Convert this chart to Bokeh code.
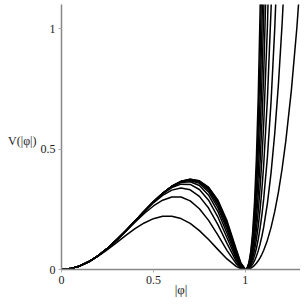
from bokeh.plotting import figure
from bokeh.models import Range1d, FixedTicker, NumeralTickFormatter, ColumnDataSource
from bokeh.embed import file_html
from bokeh.resources import INLINE

# |phi| sample grid (shared by all curves; each curve uses as many points as it has values)
phi = [0, 0.05, 0.10, 0.15, 0.20, 0.25, 0.30, 0.35, 0.40, 0.45, 0.50, 0.55, 0.60,
       0.65, 0.70, 0.75, 0.80, 0.85, 0.90, 0.95, 0.975, 1.0,
       1.01, 1.02, 1.03, 1.04, 1.05, 1.06, 1.07, 1.08, 1.09, 1.10, 1.12, 1.14,
       1.16, 1.18, 1.20, 1.22, 1.25, 1.28, 1.31]

V1 = [0, 0.0037, 0.0147, 0.0323, 0.0553, 0.0824, 0.1118, 0.1415, 0.1693, 0.1932, 0.2109, 0.2208,
      0.2212, 0.2114, 0.1912, 0.1615, 0.1244, 0.0835, 0.0439, 0.0129, 0.0035, 0,
      0.0006, 0.0025, 0.0059, 0.0108, 0.0174, 0.0257, 0.0361, 0.0484, 0.0631, 0.0800, 0.1218,
      0.1750, 0.2411, 0.3216, 0.4182, 0.5326, 0.7416, 1.0016, 1.3200]
V2 = [0, 0.0037, 0.0149, 0.0330, 0.0575, 0.0876, 0.1219, 0.1588, 0.1964, 0.2323, 0.2637, 0.2875,
      0.3008, 0.3007, 0.2849, 0.2523, 0.2040, 0.1438, 0.0794, 0.0245, 0.0068, 0,
      0.0012, 0.0052, 0.0122, 0.0225, 0.0365, 0.0547, 0.0773, 0.1050, 0.1380, 0.1769, 0.2745,
      0.4024, 0.5655, 0.7694, 1.0203, 1.3252]
V3 = [0, 0.0037, 0.0149, 0.0330, 0.0576, 0.0879, 0.1228, 0.1609, 0.2008, 0.2402, 0.2769, 0.3077,
      0.3295, 0.3384, 0.3308, 0.3034, 0.2550, 0.1873, 0.1082, 0.0350, 0.0099, 0,
      0.0019, 0.0080, 0.0188, 0.0351, 0.0576, 0.0872, 0.1246, 0.1709, 0.2270, 0.2941, 0.4661,
      0.6979, 1.0020, 1.3929]
V4 = [0, 0.0037, 0.0149, 0.0330, 0.0576, 0.0879, 0.1228, 0.1612, 0.2015, 0.2418, 0.2802, 0.3138,
      0.3398, 0.3543, 0.3532, 0.3322, 0.2876, 0.2188, 0.1315, 0.0444, 0.0129, 0,
      0.0025, 0.0108, 0.0259, 0.0488, 0.0809, 0.1237, 0.1787, 0.2477, 0.3327, 0.4359, 0.7065,
      1.0820, 1.5893]
V5 = [0, 0.0037, 0.0149, 0.0330, 0.0576, 0.0879, 0.1229, 0.1612, 0.2016, 0.2422, 0.2810, 0.3157,
      0.3435, 0.3611, 0.3643, 0.3484, 0.3085, 0.2415, 0.1504, 0.0530, 0.0157, 0,
      0.0032, 0.0138, 0.0333, 0.0636, 0.1066, 0.1647, 0.2407, 0.3374, 0.4584, 0.6075, 1.0080,
      1.5811]
V6 = [0, 0.0037, 0.0149, 0.0330, 0.0576, 0.0879, 0.1229, 0.1612, 0.2016, 0.2422, 0.2812, 0.3163,
      0.3449, 0.3639, 0.3697, 0.3575, 0.3219, 0.2580, 0.1657, 0.0607, 0.0184, 0,
      0.0039, 0.0169, 0.0413, 0.0796, 0.1349, 0.2109, 0.3116, 0.4420, 0.6076, 0.8151, 1.3862]
V7 = [0, 0.0037, 0.0149, 0.0330, 0.0576, 0.0879, 0.1229, 0.1612, 0.2016, 0.2422, 0.2812, 0.3164,
      0.3453, 0.3651, 0.3723, 0.3626, 0.3304, 0.2698, 0.1780, 0.0676, 0.0210, 0,
      0.0046, 0.0201, 0.0497, 0.0969, 0.1661, 0.2627, 0.3928, 0.5640, 0.7850, 1.0663, 1.8607]
V8 = [0, 0.0037, 0.0149, 0.0330, 0.0576, 0.0879, 0.1229, 0.1612, 0.2016, 0.2422, 0.2813, 0.3165,
      0.3455, 0.3656, 0.3736, 0.3654, 0.3359, 0.2784, 0.1881, 0.0739, 0.0235, 0,
      0.0053, 0.0235, 0.0586, 0.1156, 0.2005, 0.3209, 0.4858, 0.7063, 0.9957, 1.3702]
V9 = [0, 0.0037, 0.0149, 0.0330, 0.0576, 0.0879, 0.1229, 0.1612, 0.2016, 0.2422, 0.2813, 0.3165,
      0.3456, 0.3658, 0.3742, 0.3671, 0.3394, 0.2846, 0.1962, 0.0796, 0.0258, 0,
      0.0060, 0.0270, 0.0681, 0.1358, 0.2384, 0.3863, 0.5922, 0.8722, 1.2461]
V10 = [0, 0.0037, 0.0149, 0.0330, 0.0576, 0.0879, 0.1229, 0.1612, 0.2016, 0.2422, 0.2813, 0.3165,
       0.3456, 0.3659, 0.3746, 0.3680, 0.3416, 0.2891, 0.2028, 0.0847, 0.0280, 0,
       0.0068, 0.0306, 0.0781, 0.1577, 0.2803, 0.4598, 0.7141, 1.0658, 1.5435]

curves = [V1, V2, V3, V4, V5, V6, V7, V8, V9, V10]
ticks = [0, 0.5, 1]
x_title = "|φ|"
y_title = "\nV(|φ|)"

p = figure(width=300, height=303, x_range=Range1d(0, 1.3), y_range=Range1d(0, 1.1),
           output_backend="svg", toolbar_location=None,
           min_border_left=61, min_border_right=0, min_border_top=4, min_border_bottom=34)
p.outline_line_color = None
p.grid.visible = False

for V in curves:
    src = ColumnDataSource(dict(x=phi[:len(V)], y=V))
    p.line("x", "y", source=src, line_color="black", line_width=1.5)

for ax in (p.xaxis[0], p.yaxis[0]):
    ax.ticker = FixedTicker(ticks=ticks)
    ax.formatter = NumeralTickFormatter(format="0.[0]")
    ax.minor_tick_line_color = None
    ax.axis_line_color = "#888888"
    ax.axis_line_width = 1.5
    ax.major_tick_line_color = "#aaaaaa"
    ax.major_tick_out = 3
    ax.major_tick_in = 0
    ax.major_label_text_font = "Liberation Serif"
    ax.major_label_text_font_size = "12px"
    ax.major_label_text_color = "#222222"
    ax.major_label_standoff = 3
    ax.axis_label_text_font = "Liberation Serif"
    ax.axis_label_text_font_size = "12px"
    ax.axis_label_text_font_style = "normal"
    ax.axis_label_text_color = "#222222"

p.xaxis[0].axis_label = x_title
p.xaxis[0].axis_label_text_font_size = "13px"
p.xaxis[0].axis_label_standoff = -5
p.yaxis[0].axis_label = y_title
p.yaxis[0].axis_label_standoff = 1
p.yaxis[0].axis_label_text_line_height = 0.6
try:
    p.yaxis[0].axis_label_orientation = "horizontal"
except Exception:
    pass

open("out.html", "w").write(file_html(p, INLINE))
